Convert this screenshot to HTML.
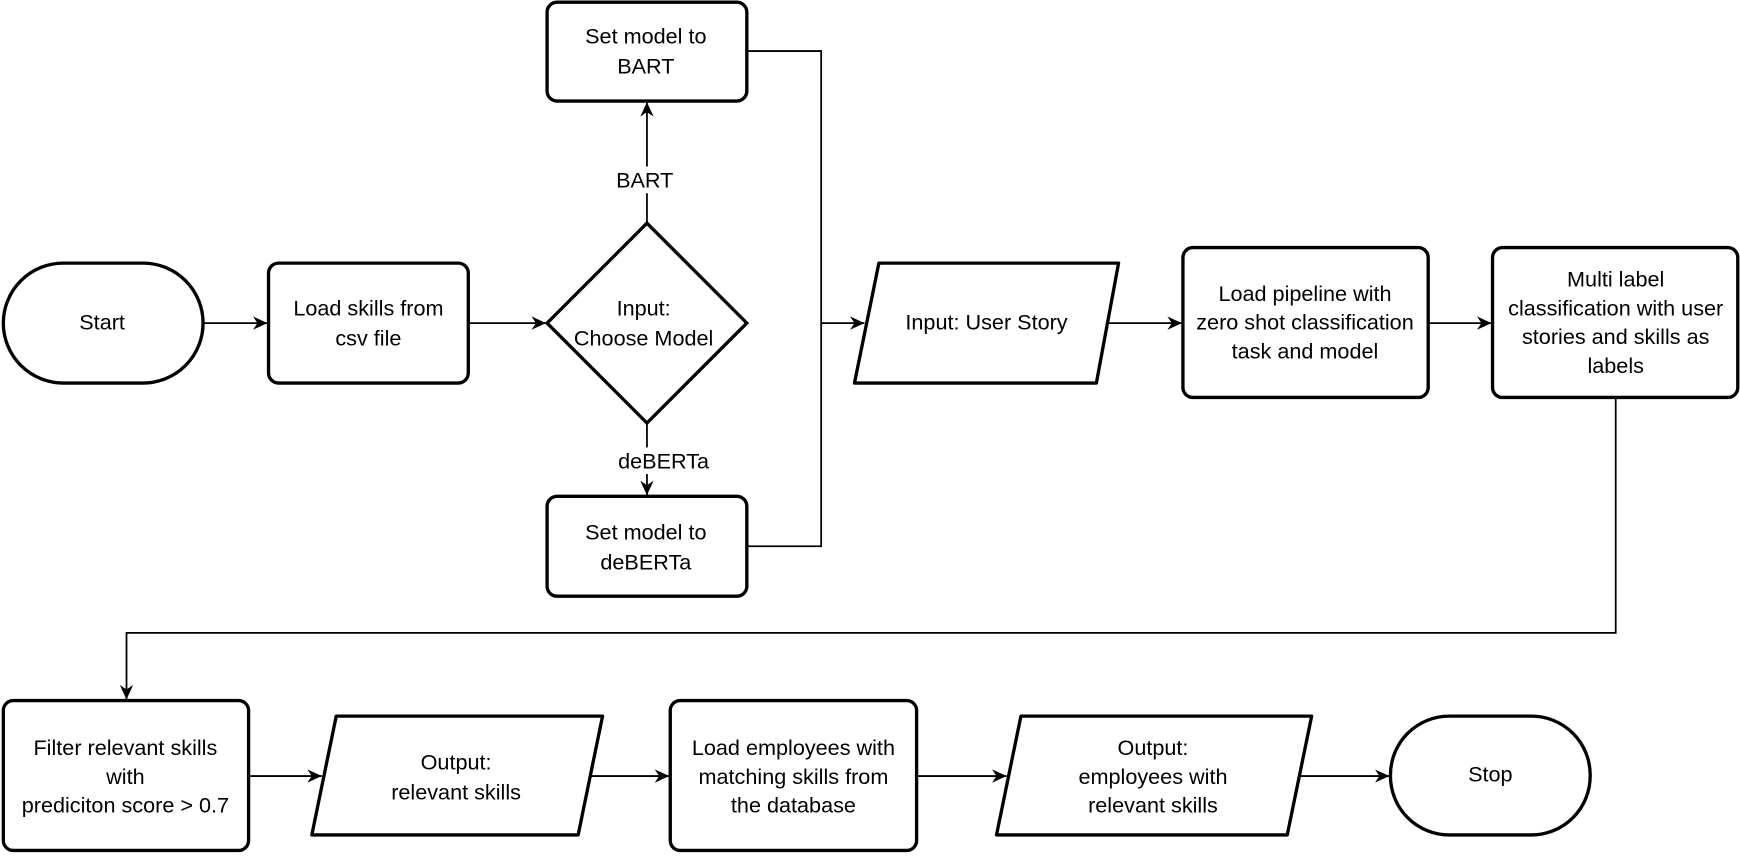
<!DOCTYPE html>
<html><head><meta charset="utf-8"><style>html,body{margin:0;padding:0;background:#fff}svg{display:block}</style></head>
<body>
<svg width="1740" height="856" viewBox="0 0 1568 771" preserveAspectRatio="none" xmlns="http://www.w3.org/2000/svg" font-family="Liberation Sans, sans-serif" font-size="19.5" text-anchor="middle">
<defs><marker id="a" markerWidth="14" markerHeight="14" refX="13" refY="7" orient="auto" markerUnits="userSpaceOnUse"><path d="M0,1 L13,7 L0,13 L4,7 Z" fill="#000"/></marker></defs>
<g fill="none" stroke="#000" stroke-width="1.6">
<path d="M183,291 H241" marker-end="url(#a)"/>
<path d="M422,291 H492" marker-end="url(#a)"/>
<path d="M583,201 V92" marker-end="url(#a)"/>
<path d="M583,381 V446" marker-end="url(#a)"/>
<path d="M673,46 H740 V492 H673"/>
<path d="M740,291 H779" marker-end="url(#a)"/>
<path d="M985,291 H1065" marker-end="url(#a)"/>
<path d="M1287,291 H1344" marker-end="url(#a)"/>
<path d="M1456,358 V570 H114 V630" marker-end="url(#a)"/>
<path d="M224,699 H290" marker-end="url(#a)"/>
<path d="M516,699 H603" marker-end="url(#a)"/>
<path d="M826,699 H907" marker-end="url(#a)"/>
<path d="M1152,699 H1252" marker-end="url(#a)"/>
</g>
<g fill="#fff" stroke="#000" stroke-width="3">
<rect x="3" y="237" width="180" height="108" rx="54"/>
<rect x="242" y="237" width="180" height="108" rx="9"/>
<path d="M583,201 L673,291 L583,381 L493,291 Z"/>
<rect x="493" y="2" width="180" height="89" rx="9"/>
<rect x="493" y="447" width="180" height="90" rx="9"/>
<path d="M792,237 H1008 L988,345 H770 Z" stroke-linejoin="round"/>
<rect x="1066" y="223" width="221" height="135" rx="9"/>
<rect x="1345" y="223" width="221" height="135" rx="9"/>
<rect x="3" y="631" width="221" height="135" rx="9"/>
<path d="M303,645 H543 L521,752 H281 Z" stroke-linejoin="round"/>
<rect x="604" y="631" width="222" height="135" rx="9"/>
<path d="M920,645 H1182 L1160,752 H898 Z" stroke-linejoin="round"/>
<rect x="1253" y="645" width="180" height="107" rx="53"/>
</g>
<rect x="550" y="150" width="64" height="24" fill="#fff"/>
<rect x="552" y="403" width="92" height="24" fill="#fff"/>
<g fill="#000">
<text x="581" y="169">BART</text>
<text x="598" y="422">deBERTa</text>
<text x="92" y="297">Start</text>
<text x="332" y="284">Load skills from</text><text x="332" y="311">csv file</text>
<text x="580" y="284">Input:</text><text x="580" y="311">Choose Model</text>
<text x="582" y="39">Set model to</text><text x="582" y="66">BART</text>
<text x="582" y="486">Set model to</text><text x="582" y="513">deBERTa</text>
<text x="889" y="297">Input: User Story</text>
<text x="1176" y="271">Load pipeline with</text><text x="1176" y="297">zero shot classification</text><text x="1176" y="323">task and model</text>
<text x="1456" y="258">Multi label</text><text x="1456" y="284">classification with user</text><text x="1456" y="310">stories and skills as</text><text x="1456" y="336">labels</text>
<text x="113" y="680">Filter relevant skills</text><text x="113" y="706">with</text><text x="113" y="732">prediciton score &gt; 0.7</text>
<text x="411" y="693">Output:</text><text x="411" y="720">relevant skills</text>
<text x="715" y="680">Load employees with</text><text x="715" y="706">matching skills from</text><text x="715" y="732">the database</text>
<text x="1039" y="680">Output:</text><text x="1039" y="706">employees with</text><text x="1039" y="732">relevant skills</text>
<text x="1343" y="704">Stop</text>
</g>
</svg>
</body></html>
